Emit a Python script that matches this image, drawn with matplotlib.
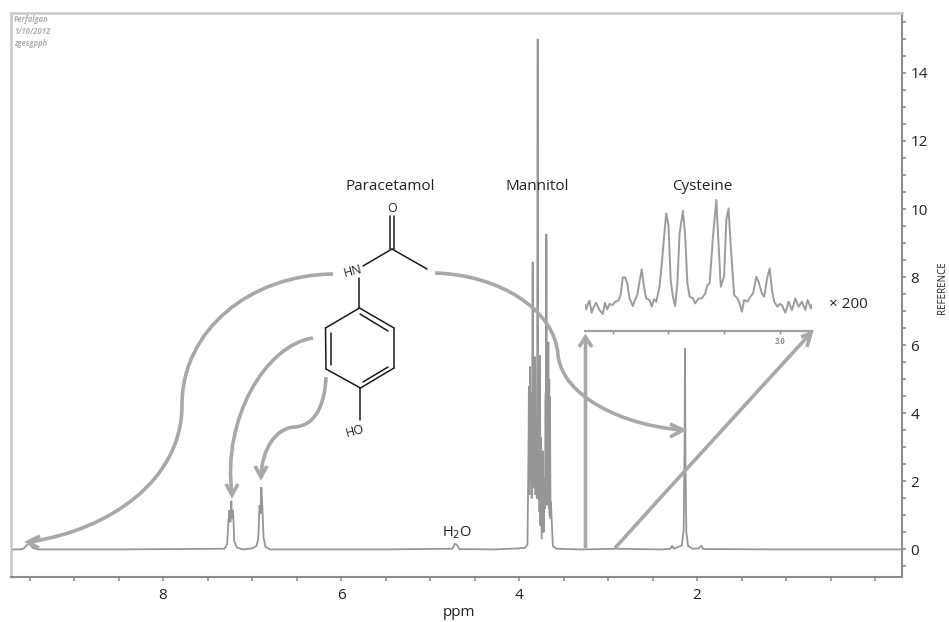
import matplotlib
matplotlib.use("Agg")
import matplotlib.pyplot as plt
from matplotlib.path import Path
from matplotlib.patches import PathPatch

plt.rcParams['font.family'] = ['Open Sans', 'DejaVu Sans']

# main spectrum
low_ppm = [9.71, 9.60, 9.56, 9.53, 9.50, 9.46, 9.40, 8.5, 7.31, 7.28, 7.263, 7.253, 7.243, 7.233, 7.223, 7.213, 7.20, 7.17,
           7.1, 7.0, 6.95, 6.93, 6.915, 6.905, 6.895, 6.885, 6.87, 6.85, 6.8, 5.5, 4.75, 4.72, 4.70, 4.67, 4.3, 4.0, 3.93]
low_int = [0.0, 0.0, 0.04, 0.13, 0.16, 0.04, 0.0, 0.0, 0.02, 0.15, 0.9, 1.16, 0.8, 1.43, 0.9, 1.16, 0.25, 0.05,
           0.0, 0.03, 0.1, 0.3, 1.3, 1.05, 1.83, 1.3, 0.35, 0.08, 0.0, 0.0, 0.02, 0.16, 0.14, 0.01, 0.0, 0.03, 0.05]
man_ppm = [3.905, 3.893, 3.889, 3.884, 3.880, 3.876, 3.871, 3.866, 3.862, 3.857, 3.851, 3.846, 3.841, 3.836, 3.831,
           3.826, 3.823, 3.82, 3.815, 3.81, 3.805, 3.80, 3.796, 3.79, 3.785, 3.78, 3.775, 3.77, 3.767, 3.764,
           3.76, 3.756, 3.745, 3.733, 3.724, 3.715, 3.708, 3.703, 3.70, 3.696, 3.693, 3.688, 3.684, 3.68, 3.675,
           3.672, 3.67, 3.665, 3.662, 3.66, 3.656, 3.652, 3.646, 3.642, 3.62, 3.58]
man_int = [0.15, 3.0, 4.8, 1.6, 4.2, 5.37, 2.0, 4.6, 3.4, 1.5, 5.0, 8.45, 1.8, 4.4, 4.2,
           1.9, 5.0, 5.66, 1.6, 3.6, 3.9, 1.5, 5.2, 15.0, 1.5, 4.6, 5.0, 1.1, 5.0, 5.7,
           0.7, 3.3, 0.3, 2.9, 0.5, 2.1, 1.2, 4.1, 4.6, 1.3, 9.27, 1.4, 5.0, 5.9, 1.3,
           5.8, 6.1, 1.2, 4.6, 5.0, 1.0, 4.5, 0.9, 1.4, 0.1, 0.02]
high_ppm = [3.3, 2.9, 2.4, 2.30, 2.28, 2.26, 2.17, 2.15, 2.14, 2.135, 2.13, 2.12, 2.10, 2.05, 1.98, 1.96, 1.95, 1.93, 1.0, -0.31]
high_int = [0.0, 0.02, 0.0, 0.02, 0.11, 0.02, 0.12, 0.6, 3.0, 5.92, 2.6, 0.5, 0.1, 0.02, 0.03, 0.09, 0.1, 0.01, 0.0, 0.0]

# cysteine multiplet, x200
cys_ppm = [3.175, 3.174, 3.172, 3.171, 3.169, 3.167, 3.165, 3.162, 3.159, 3.157, 3.155, 3.153, 3.150, 3.148, 3.145,
           3.143, 3.141, 3.139, 3.137, 3.135, 3.132, 3.130, 3.128, 3.126, 3.124, 3.122, 3.120, 3.117, 3.115, 3.113,
           3.111, 3.108, 3.106, 3.103, 3.102, 3.100, 3.098, 3.096, 3.094, 3.092, 3.090, 3.087, 3.085, 3.083, 3.081,
           3.078, 3.076, 3.073, 3.070, 3.067, 3.065, 3.063, 3.060, 3.057, 3.055, 3.053, 3.050, 3.048, 3.046, 3.044,
           3.041, 3.038, 3.036, 3.034, 3.032, 3.029, 3.026, 3.024, 3.021, 3.019, 3.016, 3.014, 3.011, 3.009, 3.007,
           3.005, 3.002, 3.000, 2.998, 2.995, 2.992, 2.989, 2.986, 2.983, 2.980, 2.977, 2.975, 2.972, 2.971]
cys_int = [1.7, -2.7, 4, 6, -6, 0, 4, -3.3, -7.3, 4, -2.7, 2.7, 1.7, 5, 6,
           11.7, 29.3, 29.3, 23.3, 8.3, 0.7, 7.3, 11.7, 25, 37.3, 20, 8.3, 6.7, 0, 7.3,
           5, 20, 43.3, 81.7, 93.3, 81.7, 26.7, 10, 0.7, 23.3, 73.3, 96, 71.7, 23.3, 10,
           8.3, 3.3, 8.3, 8.3, 13.3, 21.7, 23.3, 70, 106.7, 63.3, 20, 30, 86.7, 98.3, 60,
           11.7, 8.3, 3.3, -5, 6.7, 5, 10.7, 13.3, 30, 25, 13.3, 10, 30, 38.3, 16.7,
           5, 0, 2.7, 1.7, -6, 5, -3.3, 8.3, 0, 5, -3.3, 6.7, -1.7, 1.7]

x_major = [8, 6, 4, 2]
x_minor = [9.5, 9, 8.5, 7.5, 7, 6.5, 5.5, 5, 4.5, 3.5, 3, 2.5, 1.5, 1, 0.5, 0]
y_major = [0, 2, 4, 6, 8, 10, 12, 14]
y_minor = [-0.5, 0.5, 1, 1.5, 2.5, 3, 3.5, 4.5, 5, 5.5, 6.5, 7, 7.5, 8.5, 9, 9.5, 10.5, 11, 11.5, 12.5, 13, 13.5, 14.5, 15, 15.5]
cys_ticks = [3.15, 3.10, 3.05, 3.00]
header = ["Perfalgan", "1/10/2012", "zgesgpph"]

W, H = 949, 622
SPEC = "#969696"
ARROW = "#a8a8a8"
INK = "#222222"

fig = plt.figure(figsize=(W / 100, H / 100), dpi=100)

# main axes
ax = fig.add_axes([11 / W, (H - 577) / H, 891 / W, 564 / H])
ax.plot(low_ppm + man_ppm + high_ppm, low_int + man_int + high_int, color=SPEC, lw=1.3, solid_joinstyle="miter")
ax.set_xlim(9.708, -0.303)
ax.set_ylim(-0.81, 15.76)
ax.yaxis.tick_right()
ax.set_xticks(x_major)
ax.set_xticks(x_minor, minor=True)
ax.set_yticks(y_major)
ax.set_yticks(y_minor, minor=True)
ax.tick_params(which="both", length=3, width=1.2, color="#8c8c8c", labelsize=11, labelcolor=INK)
ax.tick_params(axis="x", pad=5)
ax.tick_params(axis="y", pad=3)
for s in ["bottom", "right"]:
    ax.spines[s].set_color("#8c8c8c")
    ax.spines[s].set_linewidth(1.5)
for s in ["top", "left"]:
    ax.spines[s].set_color("#c8c8c8")
    ax.spines[s].set_linewidth(1.8)

# cysteine inset
ins = fig.add_axes([585 / W, (H - 331) / H, 227 / W, 141 / H])
ins.patch.set_alpha(0)
ins.plot(cys_ppm, cys_int, color="#9c9c9c", lw=1.4)
ins.set_xlim(3.175, 2.971)
ins.set_ylim(-24.3, 116.7)
ins.set_yticks([])
ins.set_xticks(cys_ticks)
ins.set_xticklabels(["", "", "", "3.0"], fontsize=5.5, color="#8c8c8c", fontweight="bold")
ins.tick_params(axis="x", length=2, width=1, color="#8c8c8c", pad=2)
for s in ["top", "left", "right"]:
    ins.spines[s].set_visible(False)
ins.spines["bottom"].set_color("#a0a0a0")
ins.spines["bottom"].set_linewidth(1.6)

# overlay in pixel coordinates for the molecule, arrows and labels
ov = fig.add_axes([0, 0, 1, 1])
ov.set_xlim(0, W)
ov.set_ylim(H, 0)
ov.axis("off")
ov.patch.set_alpha(0)


def curve(verts, tip, barb1, barb2):
    codes = [Path.MOVETO] + [Path.CURVE4] * (len(verts) - 1)
    ov.add_patch(PathPatch(Path(verts, codes), fc="none", ec=ARROW, lw=2.6, capstyle="butt"))
    ov.plot([barb1[0], tip[0], barb2[0]], [barb1[1], tip[1], barb2[1]], color=ARROW, lw=2.6,
            solid_joinstyle="miter", solid_capstyle="butt")


curve([(333, 274), (250, 275), (182, 330), (182, 405), (182, 480), (110, 530), (29, 542)],
      (28, 542), (40, 536), (39, 548))
curve([(313, 338), (265, 345), (222, 420), (232, 494)], (232, 495), (226, 484), (238, 484))
curve([(326, 377), (325, 400), (318, 425), (295, 427), (275, 428), (262, 450), (261, 476)],
      (261, 477), (255, 466), (267, 466))
curve([(435, 273), (500, 275), (555, 310), (558, 355), (562, 395), (620, 425), (682, 430)],
      (683, 430), (670, 424), (670, 437))
curve([(585.5, 548), (585.5, 470), (585.5, 400), (585.5, 339)], (585.5, 337), (579, 347), (592, 347))
curve([(615, 548), (680, 476), (745, 405), (810, 334)], (811, 333), (801, 337), (807, 347))

# paracetamol structure
bonds = [
    ((390, 216), (390, 249)), ((394, 216), (394, 249)),
    ((363, 266), (392, 249)), ((392, 249), (427, 269)),
    ((359.5, 278), (359.5, 308)),
    ((359.5, 308), (394, 328)), ((394, 328), (394, 368)), ((394, 368), (360.5, 388)),
    ((360.5, 388), (326, 369)), ((326, 369), (325.5, 328)), ((325.5, 328), (359.5, 308)),
    ((360, 314), (388, 331)), ((331.5, 333), (331.5, 365)), ((363, 382), (388, 367)),
    ((360.5, 388), (360.5, 420)),
]
for a, b in bonds:
    ov.plot([a[0], b[0]], [a[1], b[1]], color="#1a1a1a", lw=1.1, solid_capstyle="round")

ov.text(392, 209, "O", fontsize=9, color=INK, ha="center", va="center")
ov.text(353, 271, "HN", fontsize=9, color=INK, ha="center", va="center", rotation=15)
ov.text(355, 431, "HO", fontsize=9, color=INK, ha="center", va="center", rotation=15)

for label, x in [("Paracetamol", 390), ("Mannitol", 537), ("Cysteine", 702)]:
    ov.text(x, 186, label, fontsize=11, color=INK, ha="center", va="center")
ov.text(848, 304, "× 200", fontsize=11, color=INK, ha="center", va="center")
ov.text(457, 533, "H$_2$O", fontsize=10.5, color=INK, ha="center", va="center", math_fontfamily="dejavusans")
ov.text(459, 613, "ppm", fontsize=11, color=INK, ha="center", va="center")
ov.text(943, 288, "REFERENCE", fontsize=7, color=INK, ha="center", va="center", rotation=90)

for i, line in enumerate(header):
    ov.text(14, 20 + i * 11.5, line, fontsize=5.5, color="#b0b0b0", style="italic", fontweight="bold",
            ha="left", va="center")

fig.savefig("out.png", dpi=100)
